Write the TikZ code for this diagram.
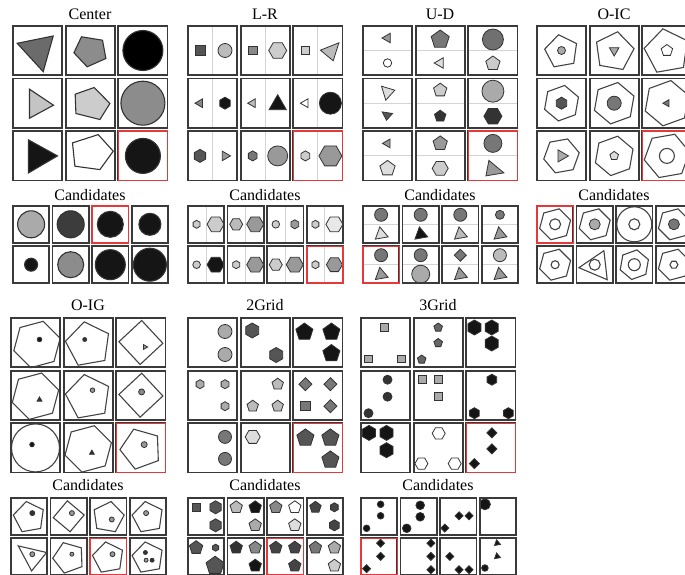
\documentclass[tikz,border=0pt]{standalone}
\usepackage{fontspec}
\setmainfont{Liberation Serif}
\definecolor{cellc}{HTML}{3A3A3A}
\definecolor{edgec}{HTML}{333333}
\definecolor{redc}{HTML}{E5383B}
\definecolor{divc}{HTML}{D4D4D4}
\definecolor{gk}{HTML}{151515}
\definecolor{g33}{HTML}{333333}
\definecolor{g3c}{HTML}{3C3C3C}
\definecolor{g44}{HTML}{444444}
\definecolor{g55}{HTML}{555555}
\definecolor{g66}{HTML}{666666}
\definecolor{g6b}{HTML}{6B6B6B}
\definecolor{g70}{HTML}{707070}
\definecolor{g77}{HTML}{777777}
\definecolor{g88}{HTML}{888888}
\definecolor{g8c}{HTML}{8C8C8C}
\definecolor{g99}{HTML}{999999}
\definecolor{gaa}{HTML}{AAAAAA}
\definecolor{gbb}{HTML}{BBBBBB}
\definecolor{gc4}{HTML}{C4C4C4}
\definecolor{gcc}{HTML}{CCCCCC}
\definecolor{gdd}{HTML}{DDDDDD}
\definecolor{gee}{HTML}{E8E8E8}
\tikzset{
  cellb/.style={draw=cellc,line width=1.8},
  redb/.style={draw=redc,line width=1.6},
  shS/.style={draw=edgec,fill=#1,line width=0.8},
  shB/.style={draw=edgec,fill=#1,line width=1.1},
  shO/.style={draw=g44,fill=white,line width=1.1},
  dvs/.style={draw=divc,line width=1},
  ttl/.style={font=\fontsize{16}{18}\selectfont,inner sep=0pt},
  mc/.style 2 args={shift={({25.5+#1*52.7},{25.5+#2*52.7})}},
  cd/.style 2 args={shift={({19.1+#1*39.6},{199.3+#2*40.4})}}
}
\newcommand\Pg[6]{\pgfmathtruncatemacro\pgN{#1-1}\draw[#4,shift={(#5,#6)}] (#3:#2) \foreach \k in {1,...,\pgN}{ -- ({#3+\k*360/#1}:#2)} -- cycle;}
\newcommand\Ci[4]{\draw[#2] (#3,#4) circle[radius=#1pt];}
\newcommand\M[3]{\begin{scope}[mc={#1}{#2}]#3\end{scope}}
\newcommand\Cd[3]{\begin{scope}[cd={#1}{#2}]#3\end{scope}}
\newcommand\boxes[2]{\foreach \c in {0,1,2}{\foreach \r in {0,1,2}{\draw[cellb] ({\c*52.7+0.9},{\r*52.7+0.9}) rectangle ++(49.2,49.2);}}\draw[redb] ({#1*52.7+0.9},{#2*52.7+0.9}) rectangle ++(49.2,49.2);}
\newcommand\cboxes[2]{\foreach \c in {0,...,3}{\foreach \r in {0,1}{\draw[cellb] ({\c*39.6+0.9},{180+\r*40.4+0.9}) rectangle ++(36.4,36.8);}}\draw[redb] ({#1*39.6+0.9},{180+#2*40.4+0.9}) rectangle ++(36.4,36.8);}
\newcommand\vd{\draw[dvs] (0,-24.6) -- (0,24.6);}
\newcommand\hd{\draw[dvs] (-24.6,0) -- (24.6,0);}
\newcommand\vdc{\draw[dvs] (0,-18.2) -- (0,18.2);}
\newcommand\hdc{\draw[dvs] (-18,0) -- (18,0);}
\begin{document}
\begin{tikzpicture}[x=1pt,y=-1pt]
\clip (0,0) rectangle (685,575);
\fill[white] (0,0) rectangle (685,575);
% ================= Center
\begin{scope}[shift={(12,25)}]
\node[ttl] (tCenter) at (78,-11) {Center};
\node[ttl] (cCenter) at (78,170) {Candidates};
\M{0}{0}{\draw[shB=g6b] (-20.3,-7.2) -- (15.7,-14.5) -- (5.7,21.2) -- cycle;}
\M{1}{0}{\draw[shB=g8c] (-16.3,2.3) -- (-8.7,-13.7) -- (12.3,-10.3) -- (15.7,8) -- (-3,16.3) -- cycle;}
\M{2}{0}{\Ci{20}{shB=black}{0}{0}}
\M{0}{1}{\draw[shB=gc4] (-8,-14) -- (16,2) -- (-8,15) -- cycle;}
\M{1}{1}{\draw[shB=gcc] (-15,-9) -- (4,-15.7) -- (19.7,0.3) -- (9.7,16.3) -- (-14.3,10.3) -- cycle;}
\M{2}{1}{\Ci{22}{shB=g8c}{0}{0}}
\M{0}{2}{\draw[shB=gk] (-9,-16) -- (20,0) -- (-9,17) -- cycle;}
\M{1}{2}{\draw[shB=white] (-17.7,-13) -- (8,-21.3) -- (23,-4.7) -- (9.7,13.7) -- (-15.3,10.3) -- cycle;}
\M{2}{2}{\Ci{17.5}{shB=gk}{0}{0}}
\boxes{2}{2}
\Cd{0}{0}{\Ci{13.5}{shB=gaa}{0}{0}}
\Cd{1}{0}{\Ci{13.5}{shB=g3c}{0}{0}}
\Cd{2}{0}{\Ci{13}{shB=gk}{0}{0}}
\Cd{3}{0}{\Ci{11}{shB=gk}{0}{0}}
\Cd{0}{1}{\Ci{6.5}{shB=gk}{0}{0}}
\Cd{1}{1}{\Ci{13}{shB=g8c}{0}{0}}
\Cd{2}{1}{\Ci{15}{shB=gk}{0}{0}}
\Cd{3}{1}{\Ci{16.5}{shB=gk}{0}{0}}
\cboxes{2}{0}
\end{scope}
% ================= L-R
\begin{scope}[shift={(187,25)}]
\node[ttl] (tLR) at (78,-11) {L-R};
\node[ttl] (cLR) at (78,170) {Candidates};
\M{0}{0}{\vd \Pg{4}{7}{45}{shS=g55}{-12.5}{0} \Ci{7}{shS=gbb}{12.5}{0}}
\M{1}{0}{\vd \Pg{4}{6}{45}{shS=g88}{-12.5}{0} \Pg{6}{9}{0}{shS=gcc}{12.5}{0}}
\M{2}{0}{\vd \Pg{4}{5.3}{45}{shS=gcc}{-12.5}{0} \draw[shS=gbb] (2.5,-0.3) -- (21,-7.7) -- (15.3,10.3) -- cycle;}
\M{0}{1}{\vd \Pg{3}{5}{180}{shS=g88}{-12.5}{0} \Pg{6}{6}{90}{shS=gk}{12.5}{0}}
\M{1}{1}{\vd \Pg{3}{5}{180}{shS=gbb}{-12.5}{0} \Pg{3}{10}{-90}{shS=gk}{12.5}{1.5}}
\M{2}{1}{\vd \Pg{3}{5}{180}{shS=white}{-12.5}{0} \Ci{11}{shS=gk}{12.5}{0}}
\M{0}{2}{\vd \Pg{6}{6.5}{90}{shS=g55}{-12.5}{0} \Pg{3}{5.5}{0}{shS=g99}{12.5}{0}}
\M{1}{2}{\vd \Pg{6}{5}{90}{shS=g77}{-12.5}{0} \Ci{10}{shS=g99}{12.5}{0}}
\M{2}{2}{\vd \Pg{6}{5}{90}{shS=gcc}{-12.5}{0} \Pg{6}{11.5}{0}{shS=g99}{12.5}{0}}
\boxes{2}{2}
\Cd{0}{0}{\vdc \Pg{6}{4}{90}{shS=gcc}{-9.5}{0} \Pg{6}{8.5}{0}{shS=gcc}{9.5}{0}}
\Cd{1}{0}{\vdc \Pg{6}{6.5}{0}{shS=gbb}{-9.5}{0} \Pg{6}{8.5}{0}{shS=g99}{9.5}{0}}
\Cd{2}{0}{\vdc \Ci{3.8}{shS=gcc}{-9.5}{0} \Pg{6}{4.5}{90}{shS=g99}{9.5}{0}}
\Cd{3}{0}{\vdc \Pg{6}{4}{90}{shS=gcc}{-9.5}{0} \Pg{6}{8.5}{0}{shS=gee}{9.5}{0}}
\Cd{0}{1}{\vdc \Ci{3.8}{shS=gcc}{-9.5}{0} \Pg{6}{8.5}{0}{shS=gk}{9.5}{0}}
\Cd{1}{1}{\vdc \Pg{6}{4}{90}{shS=gcc}{-9.5}{0} \Pg{6}{8.5}{0}{shS=g99}{9.5}{0}}
\Cd{2}{1}{\vdc \Pg{6}{6.5}{0}{shS=gcc}{-9.5}{0} \Pg{6}{8.5}{0}{shS=g99}{9.5}{0}}
\Cd{3}{1}{\vdc \Pg{6}{4}{90}{shS=gcc}{-9.5}{0} \Pg{6}{8}{0}{shS=g99}{9.5}{0}}
\cboxes{3}{1}
\end{scope}
% ================= U-D
\begin{scope}[shift={(362,25)}]
\node[ttl] (tUD) at (78,-11) {U-D};
\node[ttl] (cUD) at (78,170) {Candidates};
\M{0}{0}{\hd \Pg{3}{5.5}{180}{shS=g99}{0}{-12.5} \Ci{4.2}{shS=white}{0}{12.5}}
\M{1}{0}{\hd \Pg{5}{9.5}{-90}{shS=g77}{0}{-11} \Pg{3}{6}{180}{shS=gdd}{0}{12.5}}
\M{2}{0}{\hd \Ci{10.5}{shS=g70}{0}{-11} \Pg{5}{7.5}{-90}{shS=gcc}{0}{13}}
\M{0}{1}{\hd \draw[shS=gdd] (-6,-17) -- (7.3,-13) -- (-1.7,-3) -- cycle; \draw[shS=g55] (-5.3,8.7) -- (5,10.3) -- (-1,17) -- cycle;}
\M{1}{1}{\hd \Pg{5}{7}{-90}{shS=gcc}{0}{-13} \Pg{5}{6}{-90}{shS=g33}{0}{13}}
\M{2}{1}{\hd \Ci{11}{shS=gaa}{0}{-12} \Pg{6}{9}{0}{shS=g33}{0}{13}}
\M{0}{2}{\hd \Pg{3}{5}{180}{shS=g99}{0}{-12.5} \Pg{5}{8}{-90}{shS=gdd}{0}{12.5}}
\M{1}{2}{\hd \Pg{5}{7.5}{-90}{shS=g99}{0}{-12.5} \Pg{6}{8}{0}{shS=gcc}{0}{12.5}}
\M{2}{2}{\hd \Ci{9}{shS=g77}{0}{-12.5} \draw[shS=g99] (-4,4.5) -- (11,17) -- (-7,20) -- cycle;}
\boxes{2}{2}
\Cd{0}{0}{\hdc \Ci{6.5}{shS=g77}{0}{-9.5} \Pg{3}{7.5}{20}{shS=gdd}{0}{10}}
\Cd{1}{0}{\hdc \Ci{6.5}{shS=g77}{0}{-9.5} \Pg{3}{7.5}{20}{shS=gk}{0}{10}}
\Cd{2}{0}{\hdc \Ci{6.5}{shS=g77}{0}{-9.5} \Pg{3}{7.5}{20}{shS=gbb}{0}{10}}
\Cd{3}{0}{\hdc \Ci{4.5}{shS=g77}{0}{-9.5} \Pg{3}{7.5}{20}{shS=g99}{0}{10}}
\Cd{0}{1}{\hdc \Ci{6.5}{shS=g77}{0}{-9.5} \Pg{3}{7.5}{20}{shS=g99}{0}{10}}
\Cd{1}{1}{\hdc \Ci{6.5}{shS=g77}{0}{-9.5} \Ci{9}{shS=gaa}{0}{9.5}}
\Cd{2}{1}{\hdc \Pg{4}{6}{0}{shS=g77}{0}{-9.5} \Pg{3}{7.5}{20}{shS=g99}{0}{10}}
\Cd{3}{1}{\hdc \Ci{6.5}{shS=gbb}{0}{-9.5} \Pg{3}{7.5}{20}{shS=g99}{0}{10}}
\cboxes{0}{1}
\end{scope}
% ================= O-IC
\begin{scope}[shift={(536,25)}]
\node[ttl] (tOIC) at (78,-11) {O-IC};
\node[ttl] (cOIC) at (78,170) {Candidates};
\M{0}{0}{\Pg{5}{17}{-100}{shO}{0}{1} \Ci{4}{shS=gaa}{0}{0}}
\M{1}{0}{\Pg{5}{20}{-80}{shO}{0}{1} \Pg{3}{5.5}{90}{shS=gaa}{0}{0}}
\M{2}{0}{\Pg{5}{23}{-100}{shO}{0}{1} \Pg{5}{6}{-90}{shS=white}{0}{0}}
\M{0}{1}{\Pg{6}{18}{-80}{shO}{0}{0} \Pg{6}{6}{90}{shS=g55}{0}{0}}
\M{1}{1}{\Pg{6}{21}{-80}{shO}{0}{0} \Ci{7}{shS=g77}{0}{0}}
\M{2}{1}{\Pg{6}{23}{-80}{shO}{0}{0} \Pg{3}{4}{180}{shS=g77}{0}{0}}
\M{0}{2}{\Pg{6}{18}{-70}{shO}{0}{0} \Pg{3}{7}{0}{shS=gaa}{0}{0}}
\M{1}{2}{\Pg{6}{20}{-80}{shO}{0}{0} \Pg{5}{4.5}{-90}{shS=gdd}{0}{0}}
\M{2}{2}{\Pg{6}{23}{-70}{shO}{0}{0} \Ci{7.5}{shO}{0}{0}}
\boxes{2}{2}
\Cd{0}{0}{\Pg{6}{16}{-75}{shO}{0}{0} \Ci{5.5}{shO}{0}{0}}
\Cd{1}{0}{\Pg{6}{16}{-75}{shO}{0}{0} \Ci{5.5}{shS=gaa}{0}{0}}
\Cd{2}{0}{\Ci{17.5}{shO}{0}{0} \Ci{5.5}{shO}{0}{0}}
\Cd{3}{0}{\Pg{6}{16}{-75}{shO}{0}{0} \Ci{5.5}{shS=g77}{0}{0}}
\Cd{0}{1}{\Pg{6}{16}{-75}{shO}{0}{0} \Ci{4}{shO}{0}{0}}
\Cd{1}{1}{\draw[shO] (-15.8,3) -- (9.2,-14) -- (12.5,15) -- cycle; \Ci{5.5}{shO}{0}{0}}
\Cd{2}{1}{\Pg{6}{15}{-80}{shO}{0}{0} \Ci{6}{shO}{0}{0}}
\Cd{3}{1}{\Pg{6}{16}{-75}{shO}{0}{0} \Pg{6}{4}{0}{shO}{0}{0}}
\cboxes{0}{0}
\end{scope}
% ================= O-IG
\begin{scope}[shift={(10,317)}]
\node[ttl] (tOIG) at (78,-12) {O-IG};
\node[ttl] (cOIG) at (78,168.5) {Candidates};
\M{0}{0}{\Pg{6}{24}{-75}{shO}{1.5}{2} \Ci{2.3}{shS=gk}{4}{-3}}
\M{1}{0}{\Pg{5}{23}{-100}{shO}{0}{2} \Ci{2}{shS=g33}{-3.5}{-3}}
\M{2}{0}{\Pg{4}{22}{-88}{shO}{0}{0} \Pg{3}{2.8}{0}{shS=g99}{4}{4.5}}
\M{0}{1}{\Pg{6}{24}{-75}{shO}{0}{1} \Pg{3}{2.8}{-90}{shS=g33}{4}{4.5}}
\M{1}{1}{\Pg{5}{23}{-100}{shO}{0}{2} \Ci{2.3}{shS=g99}{4.3}{-5}}
\M{2}{1}{\Pg{4}{22}{-88}{shO}{0}{0} \Ci{3}{shS=g88}{0.7}{-3.3}}
\M{0}{2}{\Ci{24}{shO}{0}{0} \Ci{2.3}{shS=gk}{-3.5}{-3.3}}
\M{1}{2}{\Pg{6}{24}{-75}{shO}{0}{1} \Pg{3}{2.8}{-90}{shS=g33}{3.7}{5}}
\M{2}{2}{\Pg{5}{21}{-110}{shO}{0}{1} \Ci{3}{shS=g99}{3.3}{-3.3}}
\boxes{2}{2}
\Cd{0}{0}{\Pg{5}{16}{-100}{shO}{0}{1} \Ci{2.5}{shS=g33}{3.2}{-3.2}}
\Cd{1}{0}{\Pg{4}{15.5}{-95}{shO}{0}{0} \Ci{2.5}{shS=g99}{3.2}{-3.2}}
\Cd{2}{0}{\Pg{5}{16}{-80}{shO}{0}{1} \Ci{2.5}{shS=g99}{3.5}{3.2}}
\Cd{3}{0}{\Pg{5}{16}{-100}{shO}{0}{1} \Ci{2.5}{shS=g99}{-1.8}{-3.2}}
\Cd{0}{1}{\draw[shO] (-10.8,-10.8) -- (17.5,-4.2) -- (2.5,14.2) -- cycle; \Ci{2.5}{shS=g99}{3.2}{-2.5}}
\Cd{1}{1}{\Pg{5}{16}{-110}{shO}{0}{1} \Ci{2}{shS=g99}{3.2}{-2.5}}
\Cd{2}{1}{\Pg{5}{16}{-100}{shO}{0}{1} \Ci{2.5}{shS=g99}{4.2}{-2.5}}
\Cd{3}{1}{\Pg{5}{16}{-100}{shO}{0}{1} \Ci{2}{shS=g33}{-2.5}{-4.2} \Ci{2}{shS=g99}{-1.8}{3.5} \Ci{2}{shS=g33}{4.2}{3.5}}
\cboxes{2}{1}
\end{scope}
% ================= 2Grid
\begin{scope}[shift={(187,317)}]
\node[ttl] (t2G) at (78,-12) {2Grid};
\node[ttl] (c2G) at (78,168.5) {Candidates};
\M{0}{0}{\Ci{7}{shS=gaa}{12.5}{-11} \Ci{7}{shS=gaa}{12.5}{12}}
\M{1}{0}{\Pg{6}{7.5}{90}{shS=g55}{-13}{-12} \Pg{6}{7.5}{90}{shS=g55}{11}{12.5}}
\M{2}{0}{\Pg{5}{9}{-90}{shS=gk}{-13.5}{-10.5} \Pg{5}{9}{-90}{shS=gk}{13.5}{-10.5} \Pg{5}{9}{-90}{shS=gk}{13.5}{11}}
\M{0}{1}{\Pg{6}{4.5}{90}{shS=gaa}{-12.5}{-11} \Pg{6}{4.5}{90}{shS=gaa}{12.5}{-11} \Pg{6}{4.5}{90}{shS=gaa}{12.5}{11}}
\M{1}{1}{\Pg{5}{6}{-90}{shS=gbb}{12.5}{-11} \Pg{5}{6}{-90}{shS=gbb}{-12.5}{11} \Pg{5}{6}{-90}{shS=gbb}{12.5}{11}}
\M{2}{1}{\Pg{4}{6.5}{0}{shS=g77}{-12.5}{-11} \Pg{4}{6.5}{0}{shS=g77}{12.5}{-11} \Pg{4}{6.5}{45}{shS=g77}{-12.5}{11} \Pg{4}{6.5}{0}{shS=g77}{12.5}{11}}
\M{0}{2}{\Ci{6.5}{shS=g77}{12.5}{-11} \Ci{6.5}{shS=g77}{12.5}{11}}
\M{1}{2}{\Pg{6}{7.5}{0}{shS=gdd}{-12.5}{-11}}
\M{2}{2}{\Pg{5}{9}{-90}{shS=g55}{-12.5}{-10} \Pg{5}{9}{-90}{shS=g55}{12.5}{-10} \Pg{5}{9}{-90}{shS=g55}{12.5}{12}}
\boxes{2}{2}
\Cd{0}{0}{\Pg{4}{5.5}{45}{shS=g55}{-9.5}{-9} \Pg{6}{6.5}{90}{shS=g55}{9.5}{-9} \Pg{6}{6.5}{90}{shS=g55}{9.5}{9}}
\Cd{1}{0}{\Pg{5}{6.5}{-90}{shS=gbb}{-9.5}{-9} \Pg{5}{6.5}{-90}{shS=gk}{9.5}{-9} \Pg{5}{6.5}{-90}{shS=gaa}{9.5}{9}}
\Cd{2}{0}{\Pg{5}{6.5}{-90}{shS=g88}{-9.5}{-9} \Pg{5}{6.5}{-90}{shS=white}{9.5}{-9} \Pg{5}{6.5}{-90}{shS=gdd}{9.5}{9}}
\Cd{3}{0}{\Pg{5}{6}{-90}{shS=g44}{-9.5}{-9} \Pg{6}{4.5}{90}{shS=g44}{9.5}{-9} \Pg{6}{5.5}{90}{shS=g44}{9.5}{9}}
\Cd{0}{1}{\Pg{5}{7}{-90}{shS=g55}{-10}{-9} \Pg{6}{3.5}{90}{shS=g55}{9.5}{-9} \Pg{5}{9.5}{-90}{shS=g55}{9}{9}}
\Cd{1}{1}{\Pg{5}{6.5}{-90}{shS=g33}{-9.5}{-9} \Pg{5}{6.5}{-90}{shS=g88}{9.5}{-9} \Pg{5}{6.5}{-90}{shS=gk}{9.5}{9}}
\Cd{2}{1}{\Pg{5}{6.5}{-90}{shS=g44}{-9.5}{-9} \Pg{5}{6.5}{-90}{shS=g44}{9.5}{-9} \Pg{5}{6.5}{-90}{shS=g44}{9.5}{9}}
\Cd{3}{1}{\Pg{5}{6.5}{-90}{shS=g77}{-9.5}{-9} \Pg{5}{6.5}{-90}{shS=gaa}{9.5}{-9} \Pg{5}{6.5}{-90}{shS=gcc}{9.5}{9}}
\cboxes{2}{1}
\end{scope}
% ================= 3Grid
\begin{scope}[shift={(360,317)}]
\node[ttl] (t3G) at (78,-12) {3Grid};
\node[ttl] (c3G) at (78,168.5) {Candidates};
\M{0}{0}{\Pg{4}{5.5}{45}{shS=gaa}{-1}{-15} \Pg{4}{5.5}{45}{shS=gaa}{-17}{16.5} \Pg{4}{5.5}{45}{shS=gaa}{16}{16.5}}
\M{1}{0}{\Pg{5}{4.5}{-90}{shS=g66}{0}{-15} \Pg{5}{4.5}{-90}{shS=g66}{0}{0.5} \Pg{5}{4.5}{-90}{shS=g66}{-16.5}{17}}
\M{2}{0}{\Pg{6}{7.5}{90}{shS=gk}{-16.5}{-15} \Pg{6}{7.5}{90}{shS=gk}{0.8}{-15} \Pg{6}{7.5}{90}{shS=gk}{0.8}{1}}
\M{0}{1}{\Ci{4.5}{shS=g33}{2}{-15.5} \Ci{4.5}{shS=g33}{2}{1.5} \Ci{4.5}{shS=g33}{-17}{18}}
\M{1}{1}{\Pg{4}{5.8}{45}{shS=gaa}{-16}{-15.5} \Pg{4}{5.8}{45}{shS=gaa}{0}{-15.5} \Pg{4}{5.8}{45}{shS=gaa}{0}{1}}
\M{2}{1}{\Pg{6}{5.5}{90}{shS=gk}{1}{-15.5} \Pg{6}{5.5}{90}{shS=gk}{-16.5}{18} \Pg{6}{5.5}{90}{shS=gk}{17.5}{18}}
\M{0}{2}{\Pg{6}{7.5}{90}{shS=gk}{-16.5}{-15} \Pg{6}{7.5}{90}{shS=gk}{1}{-15} \Pg{6}{7.5}{90}{shS=gk}{1}{2.3}}
\M{1}{2}{\Pg{6}{6.5}{0}{shS=white}{0.5}{-14.5} \Pg{6}{6.5}{0}{shS=white}{-16.8}{15.7} \Pg{6}{6.5}{0}{shS=white}{16.5}{15.7}}
\M{2}{2}{\Pg{4}{5}{0}{shS=gk}{1}{-15} \Pg{4}{5}{0}{shS=gk}{1}{1} \Pg{4}{5}{0}{shS=gk}{-16.5}{15.7}}
\boxes{2}{2}
\Cd{0}{0}{\Ci{3.3}{shS=gk}{1.5}{-12} \Ci{3.3}{shS=gk}{1.5}{-0.5} \Ci{3.3}{shS=gk}{-12.5}{12}}
\Cd{1}{0}{\Ci{4.3}{shS=gk}{1.5}{-11} \Ci{4.3}{shS=gk}{1.5}{0.5} \Ci{4.3}{shS=gk}{-12}{12}}
\Cd{2}{0}{\Pg{4}{4}{0}{shS=gk}{0.8}{-0.5} \Pg{4}{4}{0}{shS=gk}{10.8}{-0.5} \Pg{4}{4}{0}{shS=gk}{-13.5}{11.8}}
\Cd{3}{0}{\Ci{5.5}{shS=gk}{-13}{-12}}
\Cd{0}{1}{\Pg{4}{4}{0}{shS=gk}{1.5}{-13.5} \Pg{4}{4}{0}{shS=gk}{1.5}{-0.3} \Pg{4}{4}{0}{shS=gk}{-12.5}{12}}
\Cd{1}{1}{\Pg{4}{4}{0}{shS=gk}{12.2}{-13.5} \Pg{4}{4}{0}{shS=gk}{12.2}{-0.3} \Pg{4}{4}{0}{shS=gk}{12.2}{13}}
\Cd{2}{1}{\Pg{4}{4}{0}{shS=gk}{-8.5}{-0.3} \Pg{4}{4}{0}{shS=gk}{0.8}{13} \Pg{4}{4}{0}{shS=gk}{10.8}{13}}
\Cd{3}{1}{\Pg{3}{3.5}{20}{shS=gk}{-0.7}{-13.5} \Pg{3}{3.5}{20}{shS=gk}{-0.7}{-0.3} \Ci{3.3}{shS=gk}{-13}{11.3}}
\cboxes{0}{1}
\end{scope}
\end{tikzpicture}
\end{document}
